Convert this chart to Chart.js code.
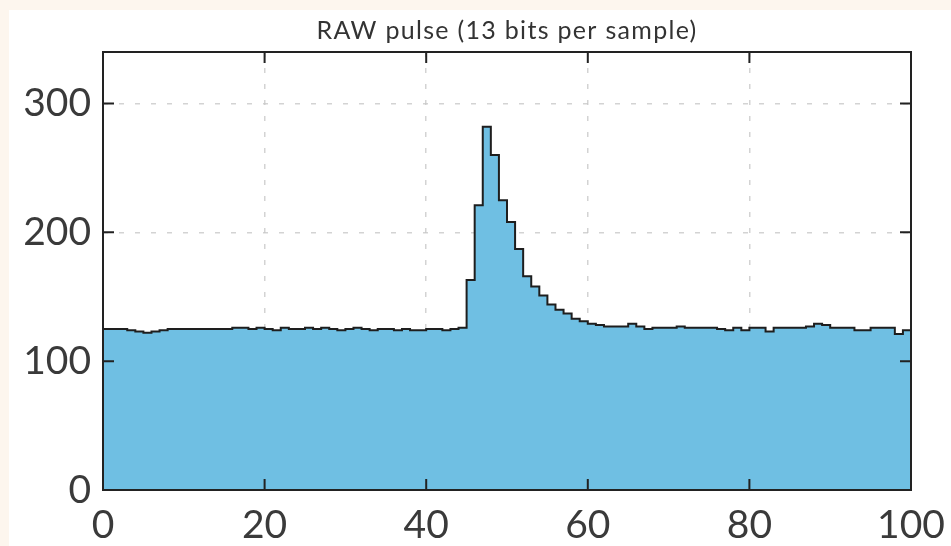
<!DOCTYPE html>
<html>
<head>
<meta charset="utf-8">
<script src="https://cdn.jsdelivr.net/npm/chart.js@4"></script>
<style>
  html, body { margin: 0; padding: 0; background: #fdf6ee; }
  #wrap { position: absolute; left: 9px; top: 10px; width: 942px; height: 536px; background: #fff; }
</style>
</head>
<body>
<div id="wrap"><canvas id="pulse"></canvas></div>
<script>
// ADC counts per sample (one bin per sample)
const counts = [
  125, 125, 125, 124, 123, 122, 123, 124, 125, 125,
  125, 125, 125, 125, 125, 125, 126, 126, 125, 126,
  125, 124, 126, 125, 125, 126, 125, 126, 125, 124,
  125, 126, 125, 124, 125, 125, 124, 125, 124, 124,
  125, 125, 124, 125, 126, 163, 221, 282, 260, 225,
  208, 187, 166, 158, 151, 144, 140, 137, 133, 131,
  129, 128, 127, 127, 127, 129, 127, 125, 126, 126,
  126, 127, 126, 126, 126, 126, 125, 124, 126, 124,
  126, 126, 123, 126, 126, 126, 126, 127, 129, 128,
  126, 126, 126, 124, 124, 126, 126, 126, 121, 124
];
const xTicks = [0, 20, 40, 60, 80, 100];
const yTicks = [0, 100, 200, 300];
const title = "RAW pulse (13 bits per sample)";

// histogram edges: bin i spans [i, i+1]; close the last bin at 100
const points = counts.map((v, i) => ({ x: i, y: v }));
points.push({ x: counts.length, y: counts[counts.length - 1] });

const tickFont = { family: "Lato", size: 39 };

// box around the plot, inward ticks on all four sides, title over the plot area
const framePlugin = {
  id: "frame",
  afterDraw(chart) {
    const { ctx, chartArea: a, scales } = chart;
    ctx.save();
    ctx.strokeStyle = "#222";
    ctx.lineWidth = 2;
    scales.x.ticks.forEach(t => {
      const px = scales.x.getPixelForValue(t.value);
      ctx.beginPath();
      ctx.moveTo(px, a.bottom); ctx.lineTo(px, a.bottom - 11);
      ctx.moveTo(px, a.top); ctx.lineTo(px, a.top + 11);
      ctx.stroke();
    });
    scales.y.ticks.forEach(t => {
      const py = scales.y.getPixelForValue(t.value);
      ctx.beginPath();
      ctx.moveTo(a.left, py); ctx.lineTo(a.left + 11, py);
      ctx.moveTo(a.right, py); ctx.lineTo(a.right - 11, py);
      ctx.stroke();
    });
    ctx.strokeRect(a.left, a.top, a.right - a.left, a.bottom - a.top);

    ctx.fillStyle = "#333";
    ctx.font = "25px Lato";
    ctx.letterSpacing = "1.3px";
    ctx.textAlign = "center";
    ctx.textBaseline = "alphabetic";
    ctx.fillText(title, (a.left + a.right) / 2, 29);
    ctx.restore();
  }
};

new Chart(document.getElementById("pulse").getContext("2d"), {
  type: "line",
  data: {
    datasets: [{
      data: points,
      stepped: "before",
      fill: "origin",
      backgroundColor: "#6fbfe3",
      borderColor: "#1e1e1e",
      borderWidth: 2,
      pointRadius: 0
    }]
  },
  options: {
    responsive: true,
    maintainAspectRatio: false,
    animation: false,
    layout: { padding: { left: 0, right: 40, top: 42, bottom: 0 } },
    plugins: {
      legend: { display: false },
      tooltip: { enabled: false }
    },
    scales: {
      x: {
        type: "linear",
        min: 0,
        max: 100,
        z: 1,
        afterBuildTicks: s => { s.ticks = xTicks.map(v => ({ value: v })); },
        afterFit: s => { s.height = 56; s.paddingLeft = 0; s.paddingRight = 0; },
        ticks: { font: tickFont, color: "#3a3a3a", padding: 12, maxRotation: 0 },
        grid: { color: "rgba(200,200,200,0.8)", lineWidth: 1.5, drawTicks: false },
        border: { display: false, dash: [5, 11] }
      },
      y: {
        min: 0,
        max: 340,
        z: 1,
        afterBuildTicks: s => { s.ticks = yTicks.map(v => ({ value: v })); },
        afterFit: s => { s.width = 94; s.paddingTop = 0; s.paddingBottom = 0; },
        ticks: { font: tickFont, color: "#3a3a3a", padding: 12 },
        grid: { color: "rgba(200,200,200,0.8)", lineWidth: 1.5, drawTicks: false },
        border: { display: false, dash: [5, 11] }
      }
    }
  },
  plugins: [framePlugin]
});
</script>
</body>
</html>
